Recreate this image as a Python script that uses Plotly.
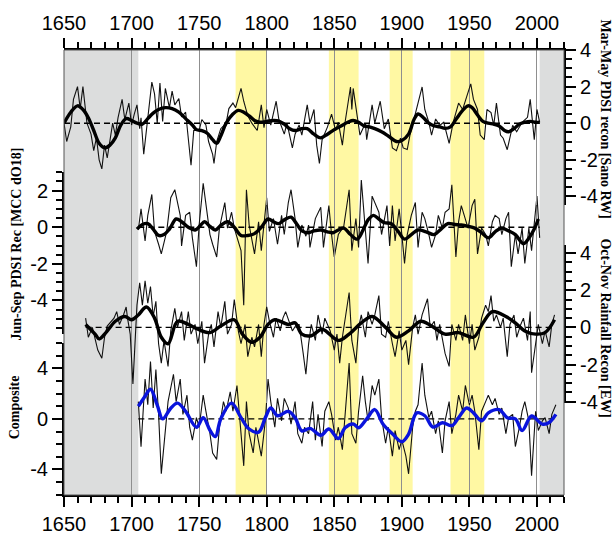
import plotly.graph_objects as go

# ---------------------------------------------------------------------------
# Data: (year, value) pairs for the annual series and their smoothed curves
# ---------------------------------------------------------------------------
sano_raw = [
    (1650, 0.0), (1652, -1.0), (1655, -0.2), (1657, 1.3), (1660, 2.0), (1662, 0.8),
    (1664, 2.0), (1666, 0.5), (1667, 0.0), (1670, -0.6), (1672, -1.5), (1674, -0.8),
    (1676, -2.0), (1678, -2.5), (1680, -1.2), (1682, -1.9), (1684, -0.8), (1686, 0.0),
    (1688, -0.65), (1690, 0.3), (1693, 1.3), (1695, 0.2), (1698, 1.1), (1700, -0.1),
    (1702, 0.5), (1704, 1.0), (1706, -0.3), (1707, 0.3), (1709, -1.7), (1712, 0.2),
    (1715, 2.25), (1717, 1.6), (1719, 0.0), (1721, 2.2), (1723, 0.1), (1725, 1.9),
    (1728, 0.85), (1730, 1.75), (1732, 1.0), (1735, 1.35), (1737, 0.35), (1740, 0.6),
    (1742, -1.0), (1744, -2.3), (1746, -0.4), (1750, -0.4), (1752, 0.2), (1755, -0.1),
    (1757, -1.0), (1760, -1.7), (1761, -2.2), (1763, -1.0), (1766, -0.3), (1770, 0.0),
    (1772, 0.8), (1775, 1.1), (1777, 0.85), (1781, 1.9), (1783, 1.2), (1786, 0.4),
    (1789, 0.0), (1793, -0.4), (1796, 1.0), (1798, -0.25), (1800, 0.75), (1803, -0.1),
    (1807, 1.2), (1809, 0.2), (1813, -0.6), (1815, 0.0), (1819, -1.35), (1821, -0.6),
    (1824, -0.1), (1826, -0.65), (1830, 1.0), (1832, 0.0), (1835, 0.75), (1837, -1.2),
    (1839, -2.2), (1841, -0.9), (1845, -0.2), (1848, 0.5), (1851, -0.4), (1853, 0.05),
    (1856, -1.2), (1858, 0.05), (1862, 1.98), (1863, 0.75), (1864, 1.9), (1867, 0.23),
    (1869, -0.65), (1873, 0.0), (1874, -0.9), (1878, 1.0), (1880, 0.0), (1884, 1.2),
    (1887, -0.3), (1890, 0.23), (1893, -1.35), (1896, -1.5), (1899, -0.82), (1901, -1.35),
    (1904, -1.44), (1906, -0.65), (1911, 0.75), (1915, 1.98), (1917, 0.75), (1920, 0.05),
    (1922, -0.65), (1925, 0.23), (1928, -0.12), (1931, 0.05), (1935, -1.1), (1938, 0.05),
    (1942, 1.1), (1945, 0.75), (1948, 1.45), (1951, 2.15), (1953, 1.3), (1956, 0.75),
    (1958, -0.65), (1961, -0.9), (1963, 0.75), (1966, 0.58), (1968, -0.12), (1970, 1.1),
    (1973, -0.65), (1975, -0.82), (1978, -1.45), (1982, -0.12), (1985, -0.47), (1989, 0.05),
    (1993, 0.32), (1995, 1.3), (1998, -0.9), (2000, 0.75), (2002, 0.05),
]
sano_smooth = [
    (1650, 0.0), (1655, 0.6), (1660, 0.95), (1664, 0.75), (1668, 0.3), (1672, -0.4),
    (1676, -1.1), (1680, -1.35), (1684, -1.2), (1688, -0.8), (1692, -0.1), (1696, 0.25),
    (1700, 0.15), (1704, 0.0), (1708, -0.05), (1712, 0.25), (1716, 0.55), (1720, 0.75),
    (1725, 0.85), (1730, 0.8), (1735, 0.6), (1740, 0.25), (1745, -0.1), (1748, -0.35),
    (1752, -0.4), (1756, -0.55), (1760, -0.9), (1763, -1.1), (1766, -0.7), (1770, 0.0),
    (1775, 0.5), (1779, 0.7), (1783, 0.6), (1787, 0.4), (1791, 0.15), (1795, 0.05),
    (1800, 0.1), (1805, 0.15), (1809, 0.12), (1813, -0.05), (1817, -0.3), (1821, -0.4),
    (1826, -0.3), (1830, -0.3), (1835, -0.6), (1840, -0.8), (1845, -0.6), (1850, -0.35),
    (1855, -0.15), (1860, 0.05), (1864, 0.15), (1868, 0.05), (1872, -0.15), (1876, -0.2),
    (1880, -0.3), (1885, -0.47), (1890, -0.7), (1896, -1.0), (1900, -0.95), (1905, -0.6),
    (1909, 0.2), (1912, 0.5), (1916, 0.3), (1920, 0.0), (1924, -0.15), (1928, -0.2),
    (1932, -0.28), (1936, -0.2), (1940, 0.2), (1945, 0.7), (1949, 0.95), (1952, 0.85),
    (1956, 0.45), (1960, 0.1), (1964, 0.0), (1968, -0.05), (1972, -0.15), (1976, -0.4),
    (1979, -0.47), (1983, -0.3), (1987, -0.05), (1991, 0.05), (1995, 0.1), (1999, 0.05),
    (2002, 0.05),
]

mcc_raw = [
    (1705, -0.14), (1707, 1.0), (1710, -0.75), (1712, 0.65), (1715, 1.79), (1717, -0.23),
    (1720, -0.93), (1722, -1.46), (1726, -0.23), (1729, 1.61), (1732, 2.05), (1734, 1.35),
    (1736, 0.65), (1737, -1.02), (1740, 0.65), (1743, 0.82), (1745, -0.58), (1748, -2.16),
    (1750, 0.12), (1753, 2.4), (1755, 1.18), (1758, -0.4), (1760, -0.93), (1763, -1.63),
    (1765, -0.05), (1769, 1.35), (1771, -0.05), (1774, 0.82), (1776, -0.05), (1779, -0.75),
    (1781, -1.28), (1783, -4.26), (1785, 2.05), (1787, 0.12), (1791, -1.46), (1794, 0.3),
    (1796, -1.28), (1800, 1.61), (1802, -0.23), (1805, 0.47), (1808, -0.93), (1811, 0.65),
    (1813, -0.4), (1816, 1.35), (1818, 2.05), (1821, 0.47), (1823, -1.1), (1826, 0.12),
    (1829, -0.49), (1831, 0.12), (1832, -1.1), (1836, 0.47), (1840, 1.09), (1842, -1.1),
    (1846, 1.18), (1848, -0.4), (1850, -1.63), (1853, -0.4), (1857, 0.04), (1861, 2.05),
    (1863, -1.28), (1866, 0.47), (1868, -1.1), (1870, 2.58), (1873, -0.4), (1875, -1.98),
    (1878, 1.7), (1880, 1.35), (1883, 0.82), (1885, -0.4), (1889, 1.18), (1891, -1.02),
    (1893, 1.18), (1895, -0.75), (1898, 1.0), (1900, -0.4), (1902, -1.98), (1904, -0.4),
    (1907, 0.65), (1910, 1.35), (1912, -1.1), (1915, 0.82), (1917, 0.47), (1920, -0.4),
    (1922, -1.1), (1925, -0.4), (1927, 0.65), (1930, -0.05), (1932, 0.82), (1935, 1.0),
    (1937, 2.32), (1940, -1.63), (1942, 0.3), (1944, 1.18), (1947, 0.47), (1949, -0.05),
    (1952, 1.18), (1954, 1.53), (1956, -1.46), (1959, -0.05), (1962, -0.4), (1964, -1.02),
    (1967, 0.3), (1969, 0.65), (1972, 0.47), (1974, -0.4), (1977, 0.47), (1979, 0.82),
    (1981, -2.16), (1984, -0.4), (1986, -1.46), (1989, -0.05), (1991, -1.98), (1994, -0.05),
    (1996, -1.28), (1998, 0.3), (2000, 1.7), (2002, -0.58),
]
mcc_smooth = [
    (1704, -0.1), (1708, 0.15), (1712, 0.2), (1716, -0.1), (1720, -0.45), (1724, -0.4),
    (1728, -0.1), (1733, 0.45), (1737, 0.3), (1742, 0.0), (1747, -0.15), (1751, 0.1),
    (1754, 0.3), (1758, 0.05), (1762, -0.15), (1766, 0.1), (1771, 0.3), (1776, 0.0),
    (1781, -0.45), (1786, -0.45), (1791, -0.35), (1796, 0.0), (1801, 0.45), (1805, 0.3),
    (1809, 0.2), (1814, 0.45), (1818, 0.55), (1822, 0.2), (1826, -0.2), (1831, -0.3),
    (1835, -0.2), (1840, -0.15), (1845, -0.25), (1849, -0.3), (1853, -0.15), (1857, -0.05),
    (1862, -0.4), (1867, -0.65), (1871, -0.2), (1875, 0.4), (1879, 0.65), (1883, 0.45),
    (1887, 0.25), (1892, 0.2), (1897, -0.2), (1902, -0.65), (1907, -0.4), (1912, -0.15),
    (1918, -0.25), (1924, -0.4), (1929, -0.1), (1934, 0.2), (1939, 0.15), (1944, 0.12),
    (1949, 0.05), (1954, -0.05), (1959, -0.3), (1964, -0.58), (1969, -0.25), (1974, -0.05),
    (1979, -0.2), (1984, -0.4), (1990, -0.9), (1994, -0.6), (1998, -0.1), (2001, 0.45),
]

ew_raw = [
    (1666, 0.5), (1668, -0.53), (1671, 0.0), (1675, -1.22), (1678, -1.66), (1680, -0.53),
    (1682, 0.07), (1685, 0.33), (1687, 0.5), (1689, 0.85), (1691, 0.16), (1694, 0.67),
    (1696, 1.1), (1697, 0.5), (1699, -0.36), (1701, -3.04), (1703, -0.36), (1704, 1.2),
    (1706, 2.4), (1708, 1.2), (1710, 2.5), (1712, 1.3), (1714, 2.2), (1716, 0.6),
    (1718, 1.4), (1720, -0.88), (1722, -1.92), (1724, -0.71), (1727, -2.1), (1729, -0.19),
    (1732, 1.02), (1734, 0.0), (1737, 0.85), (1739, -0.7), (1742, 0.85), (1744, -0.36),
    (1747, 0.16), (1749, -0.88), (1752, 0.33), (1754, -1.92), (1757, -0.36), (1759, 0.16),
    (1761, -1.05), (1764, 0.85), (1766, 0.0), (1769, 1.4), (1771, -0.36), (1774, 0.16),
    (1776, 1.5), (1779, -0.19), (1781, -0.88), (1784, 0.16), (1786, -1.57), (1789, -0.53),
    (1791, -1.05), (1794, 0.16), (1796, -1.57), (1798, 0.16), (1800, 1.1), (1802, 0.33),
    (1805, -0.53), (1807, 0.5), (1810, -0.19), (1812, 0.5), (1814, 0.85), (1817, 0.16),
    (1819, -0.19), (1822, 0.16), (1824, 0.16), (1827, -1.4), (1829, -2.52), (1831, -0.9),
    (1833, 0.16), (1836, -0.7), (1838, 0.67), (1841, -0.36), (1843, 0.5), (1847, -0.19),
    (1850, -1.22), (1852, -0.36), (1854, -1.92), (1856, -0.53), (1858, 0.5), (1861, 1.88),
    (1863, -0.7), (1866, -1.92), (1868, 0.0), (1870, 0.67), (1873, -0.53), (1875, 0.85),
    (1878, 0.16), (1880, 0.67), (1883, 1.71), (1885, -0.36), (1888, -0.53), (1890, 0.33),
    (1893, -0.88), (1895, -1.57), (1898, -0.19), (1900, -1.22), (1903, -0.7), (1905, -2.0),
    (1908, 0.0), (1910, 0.67), (1912, -0.36), (1915, 0.67), (1919, 1.54), (1921, 0.0),
    (1924, 0.33), (1926, -0.7), (1928, 0.16), (1932, -1.4), (1935, -2.1), (1937, 0.16),
    (1940, -0.7), (1942, 0.16), (1945, -0.7), (1947, 0.67), (1950, -0.88), (1952, 0.16),
    (1954, -1.22), (1957, -0.53), (1959, 0.5), (1962, 1.19), (1964, 0.85), (1966, 1.71),
    (1968, 0.33), (1970, 0.67), (1973, 0.0), (1975, 0.5), (1978, -1.57), (1980, 0.16),
    (1983, 0.67), (1985, -0.53), (1988, 0.16), (1990, 0.5), (1993, -0.7), (1995, 0.85),
    (1996, -2.44), (1999, -0.7), (2001, 0.16), (2004, -0.88), (2006, -0.19), (2009, -1.05),
    (2011, 0.16), (2013, 0.67),
]
ew_smooth = [
    (1666, 0.16), (1673, -0.36), (1676, -0.62), (1681, -0.28), (1688, 0.33), (1695, 0.59),
    (1700, 0.41), (1705, 0.67), (1711, 1.1), (1717, 0.5), (1722, -0.53), (1727, -0.88),
    (1734, 0.33), (1742, 0.16), (1749, -0.1), (1758, -0.28), (1766, 0.07), (1776, 0.41),
    (1782, -0.36), (1789, -0.8), (1795, -0.53), (1801, 0.16), (1806, 0.41), (1816, 0.16),
    (1821, 0.24), (1826, -0.36), (1833, -0.45), (1841, -0.1), (1853, -0.7), (1861, -0.36),
    (1870, 0.24), (1878, 0.59), (1888, 0.0), (1896, -0.53), (1905, -0.19), (1914, 0.33),
    (1922, 0.07), (1932, -0.36), (1942, -0.28), (1953, -0.53), (1960, 0.24), (1967, 0.85),
    (1977, 0.59), (1984, 0.24), (1991, -0.19), (1999, -0.36), (2006, -0.28), (2013, 0.41),
]

comp_raw = [
    (1705, 1.37), (1707, -2.2), (1710, 3.16), (1712, 1.12), (1714, 4.55), (1716, 0.86),
    (1718, 3.92), (1720, 0.36), (1722, -4.35), (1725, -0.66), (1727, 1.37), (1731, 3.54),
    (1733, 1.37), (1736, 3.16), (1738, 0.36), (1741, 1.88), (1743, -0.66), (1745, -1.68),
    (1748, 0.1), (1750, -0.66), (1753, 1.88), (1755, 0.61), (1758, -1.17), (1760, -2.7),
    (1763, -3.21), (1765, -0.66), (1768, 1.37), (1770, 0.61), (1773, 2.14), (1775, 0.61),
    (1778, 2.65), (1780, 0.1), (1783, -3.72), (1785, 1.37), (1787, -1.17), (1790, -2.7),
    (1792, -0.66), (1796, -2.95), (1799, -0.15), (1801, 3.16), (1803, 1.37), (1806, -0.66),
    (1808, 1.63), (1811, -0.15), (1813, 1.63), (1816, 0.86), (1818, -0.41), (1821, 1.37),
    (1823, -1.17), (1826, -1.93), (1828, -0.66), (1831, -1.17), (1834, 1.37), (1836, -1.68),
    (1838, 0.36), (1841, -2.19), (1843, 0.61), (1846, 1.37), (1848, 0.36), (1851, -1.68),
    (1853, -0.66), (1856, -2.44), (1858, 0.36), (1861, 4.43), (1863, -1.17), (1866, -1.93),
    (1868, 0.61), (1871, 3.41), (1873, 1.37), (1875, -0.15), (1878, 2.65), (1880, 1.88),
    (1883, 3.16), (1885, 0.1), (1888, -1.93), (1890, -0.66), (1893, -2.95), (1895, -0.92),
    (1898, -2.44), (1900, -1.68), (1903, -2.95), (1905, -4.35), (1908, -0.66), (1910, 0.61),
    (1912, 1.12), (1915, 4.43), (1917, 1.88), (1920, 0.1), (1922, 0.61), (1925, -1.17),
    (1927, -0.15), (1930, -2.7), (1932, -0.15), (1935, 1.37), (1937, -1.17), (1940, 0.36),
    (1942, 1.88), (1945, 0.61), (1947, 2.65), (1950, 1.12), (1952, 1.88), (1954, 0.61),
    (1957, -2.44), (1959, 0.61), (1962, 1.37), (1964, 1.88), (1967, 1.12), (1969, 1.63),
    (1972, 0.36), (1974, 0.86), (1977, -1.17), (1979, 0.1), (1982, 0.36), (1984, -2.19),
    (1987, -0.66), (1989, 0.61), (1991, 1.37), (1994, -0.15), (1996, -4.5), (1999, 0.61),
    (2001, -0.92), (2004, -0.15), (2006, 0.1), (2009, -1.17), (2011, 0.36), (2014, 1.12),
]
comp_smooth = [
    (1705, 1.0), (1710, 1.8), (1714, 2.35), (1719, 1.1), (1723, 0.0), (1729, 0.85),
    (1734, 1.25), (1740, 0.6), (1748, -0.66), (1753, 0.1), (1758, -0.9), (1762, -1.4),
    (1766, 0.0), (1774, 1.25), (1781, 0.1), (1787, -0.8), (1794, -1.05), (1799, 0.1),
    (1803, 0.86), (1808, 0.25), (1816, 0.6), (1821, 0.1), (1826, -0.95), (1832, -0.75),
    (1840, -1.3), (1846, -0.8), (1853, -1.55), (1858, -0.7), (1864, -0.4), (1868, -0.7),
    (1874, 0.0), (1880, 0.74), (1886, -0.4), (1893, -1.17), (1900, -1.8), (1905, -1.2),
    (1911, 0.48), (1917, 0.25), (1923, -0.65), (1930, -0.3), (1937, -0.53), (1942, 0.1),
    (1948, 0.86), (1953, 0.48), (1959, -0.15), (1964, 0.48), (1972, 0.74), (1978, 0.1),
    (1984, 0.0), (1989, -0.92), (1996, 0.23), (2004, -0.41), (2009, -0.28), (2014, 0.36),
]

# Shaded periods (start year, end year)
grey_periods = [(1650, 1705), (2002, 2020)]
yellow_periods = [(1777, 1800), (1846, 1868), (1891, 1908), (1936, 1961)]

YEAR_RANGE = [1650, 2020]

# Labelled tick values on each panel axis
sano_ticks = [4, 2, 0, -2, -4]
mcc_ticks = [2, 0, -2, -4]
ew_ticks = [4, 2, 0, -2, -4]
comp_ticks = [4, 0, -4]

# ---------------------------------------------------------------------------
# Layout geometry (pixels) for the stacked panels
# ---------------------------------------------------------------------------
W, H = 614, 547
ML, MR, MT, MB = 64, 50, 45, 40
PLOT_TOP, PLOT_BOT = MT, H - MB
PLOT_H = PLOT_BOT - PLOT_TOP
PLOT_W = W - ML - MR


def axis_geometry(zero_px, px_per_unit, top_px, bot_px):
    """Domain (paper fraction) and value range for a panel axis."""
    dom = [max(0.0, (PLOT_BOT - bot_px) / PLOT_H), min(1.0, (PLOT_BOT - top_px) / PLOT_H)]
    rng = [(zero_px - bot_px) / px_per_unit, (zero_px - top_px) / px_per_unit]
    return dom, rng


dom_sano, rng_sano = axis_geometry(121, 19.0, 45, 206)
dom_mcc, rng_mcc = axis_geometry(229, 19.0, 172, 340)
dom_ew, rng_ew = axis_geometry(333, 19.3, 247, 412)
dom_comp, rng_comp = axis_geometry(428, 13.1, 349, 507)

TICK_FONT = dict(family="Liberation Sans, Arial, sans-serif", size=20, color="black")
TITLE_FONT = dict(family="Liberation Serif, Times New Roman, serif", size=14, color="black")


def unzip(pairs):
    return [p[0] for p in pairs], [p[1] for p in pairs]


fig = go.Figure()


def add_panel(raw, smooth, yaxis, smooth_color, zero_xaxis="x"):
    xr, yr = unzip(raw)
    xs, ys = unzip(smooth)
    fig.add_trace(go.Scatter(x=xr, y=yr, mode="lines", yaxis=yaxis,
                             line=dict(color="#111111", width=1.1),
                             showlegend=False, hoverinfo="skip"))
    fig.add_trace(go.Scatter(x=[xr[0], xr[-1]], y=[0, 0], mode="lines",
                             xaxis=zero_xaxis, yaxis=yaxis,
                             line=dict(color="black", width=1.4, dash="6px,4px"),
                             showlegend=False, hoverinfo="skip"))
    fig.add_trace(go.Scatter(x=xs, y=ys, mode="lines", yaxis=yaxis,
                             line=dict(color=smooth_color, width=3.4, shape="spline", smoothing=1.0),
                             showlegend=False, hoverinfo="skip"))


# the top panel's zero line lives on the top year axis so that axis is drawn
add_panel(sano_raw, sano_smooth, "y3", "black", zero_xaxis="x2")
add_panel(mcc_raw, mcc_smooth, "y2", "black")
add_panel(ew_raw, ew_smooth, "y4", "black")
add_panel(comp_raw, comp_smooth, "y", "#0a14dc")

# Background period shading
shapes = []
for a, b in grey_periods:
    shapes.append(dict(type="rect", xref="x", yref="paper", x0=a, x1=b, y0=0, y1=1,
                       fillcolor="#dcdddd", line=dict(width=0), layer="below"))
for a, b in yellow_periods:
    shapes.append(dict(type="rect", xref="x", yref="paper", x0=a, x1=b, y0=0, y1=1,
                       fillcolor="#fff8a3", line=dict(width=0), layer="below"))
shapes.append(dict(type="rect", xref="paper", yref="paper", x0=0, x1=1, y0=0, y1=1,
                   fillcolor="rgba(0,0,0,0)", line=dict(color="#555555", width=1), layer="above"))


def yaxis_style(dom, rng, side, tickvals, minor_dtick):
    return dict(domain=dom, range=rng, anchor="x", side=side,
                showline=True, linecolor="black", linewidth=2,
                ticks="outside", ticklen=10, tickwidth=1.8, tickcolor="black",
                tickmode="array", tickvals=tickvals, ticktext=[f"{v:g}" for v in tickvals],
                minor=dict(ticks="outside", ticklen=6, tickwidth=1.5, tickcolor="black",
                           tickmode="linear", tick0=0, dtick=minor_dtick, showgrid=False),
                showgrid=False, zeroline=False, tickfont=TICK_FONT, fixedrange=True)


def xaxis_style(show_grid):
    return dict(range=YEAR_RANGE, showline=True, linecolor="black", linewidth=2,
                ticks="outside", ticklen=10, tickwidth=1.8, tickcolor="black",
                tickmode="linear", tick0=1650, dtick=50,
                minor=dict(ticks="outside", ticklen=6, tickwidth=1.5, tickcolor="black",
                           tickmode="linear", tick0=1650, dtick=10, showgrid=False),
                showgrid=show_grid, gridcolor="#8f8f8f", gridwidth=1,
                zeroline=False, tickfont=TICK_FONT, fixedrange=True)


fig.update_layout(
    width=W, height=H,
    margin=dict(l=ML, r=MR, t=MT, b=MB),
    paper_bgcolor="white", plot_bgcolor="rgba(0,0,0,0)",
    showlegend=False,
    xaxis=dict(domain=[0, 1], anchor="y", side="bottom", **xaxis_style(True)),
    xaxis2=dict(overlaying="x", anchor="y3", side="top", matches="x", **xaxis_style(False)),
    yaxis=yaxis_style(dom_comp, rng_comp, "left", comp_ticks, 1),
    yaxis2=yaxis_style(dom_mcc, rng_mcc, "left", mcc_ticks, 0.5),
    yaxis3=yaxis_style(dom_sano, rng_sano, "right", sano_ticks, 0.5),
    yaxis4=yaxis_style(dom_ew, rng_ew, "right", ew_ticks, 0.5),
    shapes=shapes,
)


def px_to_paper(xp, yp):
    return (xp - ML) / PLOT_W, (PLOT_BOT - yp) / PLOT_H


titles = [
    ("Mar-May PDSI recon [Sano RW]", 606, 116, 90),
    ("Oct-Nov Rainfall Recon [EW]", 606, 333, 90),
    ("Jun-Sep PDSI Rec [MCC dO18]", 17, 247, -90),
    ("Composite", 14, 416, -90),
]
for text, xp, yp, ang in titles:
    xa, ya = px_to_paper(xp, yp)
    fig.add_annotation(text=f"<b>{text}</b>", xref="paper", yref="paper", x=xa, y=ya,
                       showarrow=False, textangle=ang, font=TITLE_FONT,
                       xanchor="center", yanchor="middle")

fig.write_html("out.html")
